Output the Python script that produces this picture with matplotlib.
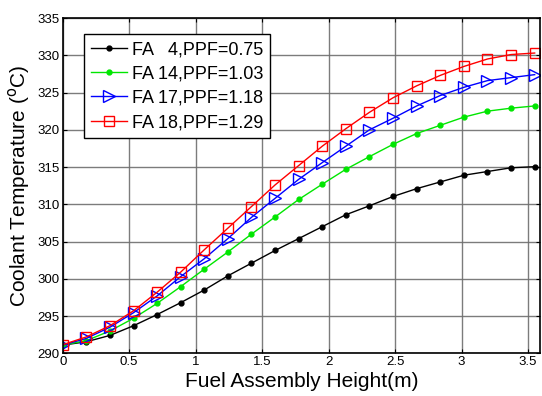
import matplotlib
matplotlib.use("Agg")
import matplotlib.pyplot as plt

height = [0.0, 0.1775, 0.355, 0.5325, 0.71, 0.8875, 1.065, 1.2425, 1.42, 1.5975,
          1.775, 1.9525, 2.13, 2.3075, 2.485, 2.6625, 2.84, 3.0175, 3.195, 3.3725, 3.55]

fa4 = [291.1, 291.55, 292.4, 293.7, 295.2, 296.8, 298.5, 300.4, 302.1, 303.8, 305.4,
       307.0, 308.6, 309.8, 311.05, 312.1, 313.0, 313.9, 314.4, 314.9, 315.05]
fa14 = [291.1, 291.7, 293.0, 294.7, 296.7, 298.95, 301.3, 303.6, 306.0, 308.3, 310.65,
        312.7, 314.7, 316.4, 318.05, 319.5, 320.6, 321.7, 322.5, 322.9, 323.2]
fa17 = [291.1, 292.0, 293.5, 295.45, 297.7, 300.3, 302.7, 305.4, 308.25, 310.8, 313.35,
        315.6, 317.8, 320.0, 321.55, 323.2, 324.6, 325.7, 326.6, 327.0, 327.4]
fa18 = [291.15, 292.2, 293.7, 295.7, 298.2, 300.9, 303.9, 306.8, 309.7, 312.6, 315.2,
        317.8, 320.15, 322.35, 324.3, 325.9, 327.3, 328.5, 329.5, 330.1, 330.3]

labels = ["FA   4,PPF=0.75", "FA 14,PPF=1.03", "FA 17,PPF=1.18", "FA 18,PPF=1.29"]
xticks = [0, 0.5, 1, 1.5, 2, 2.5, 3, 3.5]
xticklabels = ["0", "0.5", "1", "1.5", "2", "2.5", "3", "3.5"]
yticks = [290, 295, 300, 305, 310, 315, 320, 325, 330, 335]

plt.rcParams['font.family'] = ['Liberation Sans', 'DejaVu Sans']

fig = plt.figure(figsize=(5.42, 3.96), dpi=100)
ax = fig.add_axes([0.1157, 0.1078, 0.8806, 0.8467])

ax.plot(height, fa4, color='k', lw=1, marker='o', ms=3.5, label=labels[0])
ax.plot(height, fa14, color='#00e600', lw=1, marker='o', ms=3.5, label=labels[1])
ax.plot(height, fa17, color='#0000ff', lw=1, marker='>', ms=8, mfc='none', mew=1, label=labels[2])
ax.plot(height, fa18, color='#ff0000', lw=1, marker='s', ms=7.5, mfc='none', mew=1, label=labels[3])

ax.set_xlim(0, 3.59)
ax.set_ylim(290, 335)
ax.set_xticks(xticks)
ax.set_xticklabels(xticklabels)
ax.set_yticks(yticks)
ax.tick_params(direction='in', top=True, right=True, labelsize=9.5, length=3, pad=2)
ax.grid(True, color='#6e6e6e', lw=1, alpha=0.9)
ax.set_axisbelow(True)
for s in ax.spines.values():
    s.set_linewidth(1.2)

ax.set_xlabel("Fuel Assembly Height(m)", fontsize=15, labelpad=3)
ax.set_ylabel("Coolant Temperature ($^{\\mathrm{o}}$C)", fontsize=15, labelpad=4)

leg = ax.legend(loc='upper left', bbox_to_anchor=(0.0446, 0.952), fontsize=13,
                frameon=True, fancybox=False, edgecolor='k', framealpha=1,
                borderaxespad=0, handlelength=2.0, labelspacing=0.4, borderpad=0.4,
                handletextpad=0.25)
leg.get_frame().set_linewidth(1.0)

fig.savefig("out.png", dpi=100)
